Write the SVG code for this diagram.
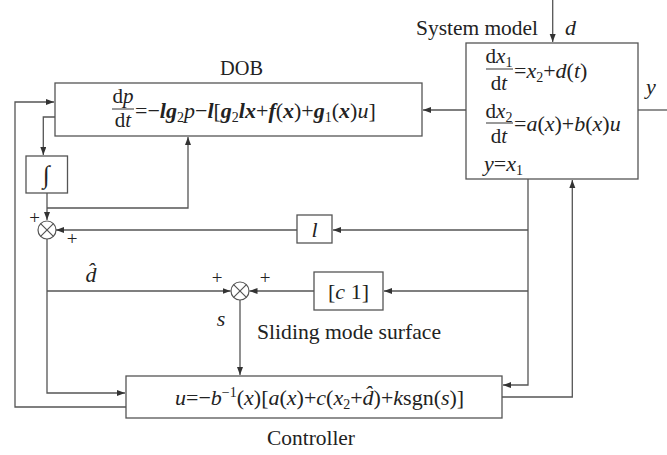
<svg xmlns="http://www.w3.org/2000/svg" width="667" height="455" viewBox="0 0 667 455">
<defs>
<style>
.box{fill:#fff;stroke:#555;stroke-width:1.3}
.ln{fill:none;stroke:#555;stroke-width:1.3}
.sum{fill:#fff;stroke:#555;stroke-width:1.2}
.sx{stroke:#555;stroke-width:1.2}
text{font-family:"Liberation Serif","Times New Roman",serif;fill:#222}
.lab{font-size:21px}
.eq{font-size:22px}
.fr{font-size:21px}
.pl{font-size:19px}
.i{font-style:italic}
.bi{font-style:italic;font-weight:bold}
.sub{font-size:14px;font-style:normal;font-weight:normal}
</style>
<marker id="ah" markerUnits="userSpaceOnUse" markerWidth="9" markerHeight="7" refX="8" refY="3" orient="auto">
<path d="M0,0 L8,3 L0,6 z" fill="#333"/>
</marker>
</defs>
<rect width="667" height="455" fill="#fff"/>

<g id="connectors">
<path class="ln" d="M552.7,0 V42" marker-end="url(#ah)"/>
<path class="ln" d="M638,110 H667"/>
<path class="ln" d="M466,110 H423" marker-end="url(#ah)"/>
<path class="ln" d="M528,179 V385 H503" marker-end="url(#ah)"/>
<path class="ln" d="M528,230 H333" marker-end="url(#ah)"/>
<path class="ln" d="M528,291 H384" marker-end="url(#ah)"/>
<path class="ln" d="M297,230 H56" marker-end="url(#ah)"/>
<path class="ln" d="M314,291 H249.5" marker-end="url(#ah)"/>
<path class="ln" d="M55,117 H43.3 V155" marker-end="url(#ah)"/>
<path class="ln" d="M47,193 V220" marker-end="url(#ah)"/>
<path class="ln" d="M47,208 H188 V137" marker-end="url(#ah)"/>
<path class="ln" d="M47,239 V393 H125" marker-end="url(#ah)"/>
<path class="ln" d="M47,291 H230.5" marker-end="url(#ah)"/>
<path class="ln" d="M240,300 V375" marker-end="url(#ah)"/>
<path class="ln" d="M502,397 H572.3 V180" marker-end="url(#ah)"/>
<path class="ln" d="M126,407 H15 V102 H54" marker-end="url(#ah)"/>
</g>

<g id="dob">
<rect class="box" x="55" y="83" width="367" height="53"/>
<text class="lab" x="241.5" y="75" text-anchor="middle" textLength="43" lengthAdjust="spacingAndGlyphs">DOB</text>
<text class="fr" x="123" y="103" text-anchor="middle">d<tspan class="i">p</tspan></text>
<line class="sx" x1="112" y1="109" x2="134" y2="109"/>
<text class="fr" x="123" y="127" text-anchor="middle">d<tspan class="i">t</tspan></text>
<text class="eq" x="135" y="118">=−<tspan class="bi">lg</tspan><tspan class="sub" dy="4">2</tspan><tspan class="i" dy="-4">p</tspan>−<tspan class="bi">l</tspan>[<tspan class="bi">g</tspan><tspan class="sub" dy="4">2</tspan><tspan class="bi" dy="-4">lx</tspan>+<tspan class="bi">f</tspan>(<tspan class="bi">x</tspan>)+<tspan class="bi">g</tspan><tspan class="sub" dy="4">1</tspan><tspan dy="-4">(</tspan><tspan class="bi">x</tspan>)<tspan class="i">u</tspan>]</text>
</g>

<g id="system-model">
<rect class="box" x="466" y="43" width="172" height="136"/>
<text class="lab" x="416" y="35" textLength="122" lengthAdjust="spacingAndGlyphs">System model</text>
<text class="eq i" x="565" y="35">d</text>
<text class="eq i" x="646" y="94">y</text>
<text class="fr" x="499" y="63" text-anchor="middle">d<tspan class="i">x</tspan><tspan class="sub" dy="4">1</tspan></text>
<line class="sx" x1="486" y1="69" x2="513" y2="69"/>
<text class="fr" x="499" y="90" text-anchor="middle">d<tspan class="i">t</tspan></text>
<text class="eq" x="514" y="78">=<tspan class="i">x</tspan><tspan class="sub" dy="4">2</tspan><tspan dy="-4">+</tspan><tspan class="i">d</tspan>(<tspan class="i">t</tspan>)</text>
<text class="fr" x="499" y="118" text-anchor="middle">d<tspan class="i">x</tspan><tspan class="sub" dy="4">2</tspan></text>
<line class="sx" x1="486" y1="123" x2="513" y2="123"/>
<text class="fr" x="499" y="143" text-anchor="middle">d<tspan class="i">t</tspan></text>
<text class="eq" x="514" y="131">=<tspan class="i">a</tspan>(<tspan class="i">x</tspan>)+<tspan class="i">b</tspan>(<tspan class="i">x</tspan>)<tspan class="i">u</tspan></text>
<text class="eq" x="484" y="171"><tspan class="i">y</tspan>=<tspan class="i">x</tspan><tspan class="sub" dy="4">1</tspan></text>
</g>

<g id="integrator">
<rect class="box" x="26" y="156" width="41.5" height="37"/>
<text class="eq" x="46.5" y="183" text-anchor="middle" style="font-size:25px">∫</text>
</g>

<g id="sum1">
<circle class="sum" cx="47" cy="230" r="9"/>
<path class="sx" d="M40.6,223.6 L53.4,236.4 M53.4,223.6 L40.6,236.4"/>
<text class="pl" x="34.5" y="224" text-anchor="middle">+</text>
<text class="pl" x="72" y="245" text-anchor="middle">+</text>
</g>

<g id="gain-l">
<rect class="box" x="297" y="215" width="35" height="28"/>
<text class="eq i" x="314.5" y="237" text-anchor="middle">l</text>
</g>

<g id="dhat-label">
<text class="eq i" x="91" y="282" text-anchor="middle">d̂</text>
</g>

<g id="sum2">
<circle class="sum" cx="240" cy="291" r="9"/>
<path class="sx" d="M233.6,284.6 L246.4,297.4 M246.4,284.6 L233.6,297.4"/>
<text class="pl" x="217" y="284" text-anchor="middle">+</text>
<text class="pl" x="265" y="284" text-anchor="middle">+</text>
<text class="eq i" x="221" y="326" text-anchor="middle">s</text>
</g>

<g id="sliding-surface">
<rect class="box" x="314" y="272" width="69" height="38"/>
<text class="eq" x="348.5" y="299" text-anchor="middle">[<tspan class="i">c</tspan> 1]</text>
<text class="lab" x="257" y="339" textLength="184" lengthAdjust="spacingAndGlyphs">Sliding mode surface</text>
</g>

<g id="controller">
<rect class="box" x="126" y="376" width="376" height="42"/>
<text class="eq" x="175" y="405"><tspan class="i">u</tspan>=−<tspan class="i">b</tspan><tspan class="sub" dy="-8">−1</tspan><tspan dy="8">(</tspan><tspan class="i">x</tspan>)[<tspan class="i">a</tspan>(<tspan class="i">x</tspan>)+<tspan class="i">c</tspan>(<tspan class="i">x</tspan><tspan class="sub" dy="4">2</tspan><tspan dy="-4">+</tspan><tspan class="i">d̂</tspan>)+<tspan class="i">k</tspan>sgn(<tspan class="i">s</tspan>)]</text>
<text class="lab" x="267" y="445" textLength="88" lengthAdjust="spacingAndGlyphs">Controller</text>
</g>
</svg>
